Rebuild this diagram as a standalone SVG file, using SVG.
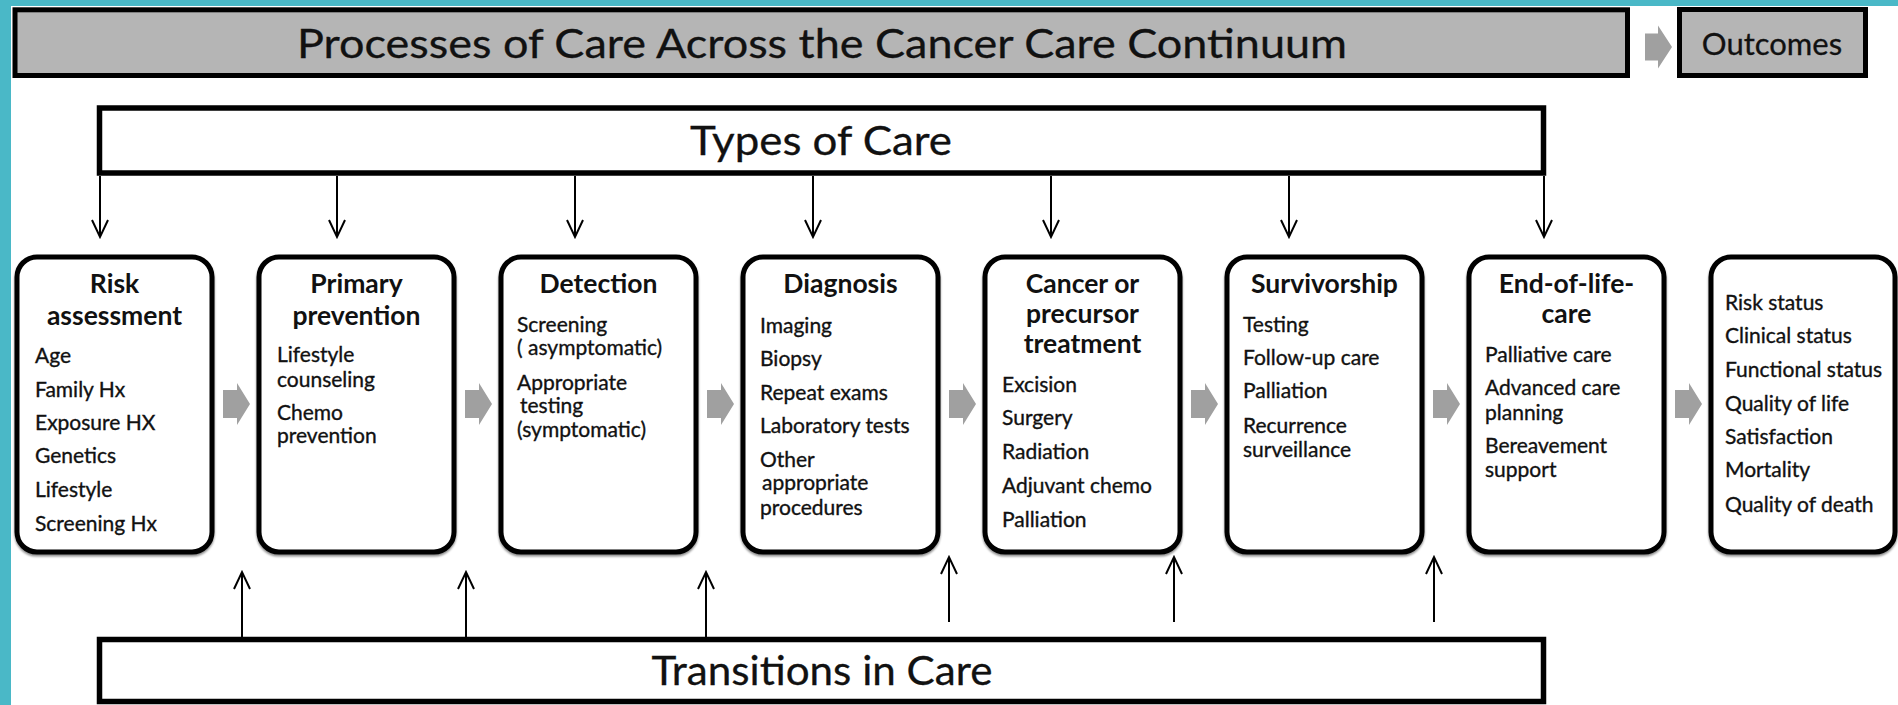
<svg xmlns="http://www.w3.org/2000/svg" width="1898" height="705" viewBox="0 0 1898 705">
  <defs>
    <style>
      .bar { fill: #b5b5b5; stroke: #000; stroke-width: 5; }
      .band { fill: #fff; stroke: #000; stroke-width: 5.5; }
      .node { fill: #fff; stroke: #000; stroke-width: 5; filter: url(#shade); }
      .big { font-family: Lato, "Open Sans", sans-serif; font-size: 41px; fill: #111; text-anchor: middle; stroke: #111; stroke-width: 0.3; }
      .hdr { font-family: Lato, "Open Sans", sans-serif; font-size: 26.5px; font-weight: bold; fill: #111; text-anchor: middle; }
      .item { font-family: Lato, "Open Sans", sans-serif; font-size: 21px; fill: #111; stroke: #111; stroke-width: 0.35; }
      .conn { stroke: #000; stroke-width: 2; fill: none; }
      .step { fill: #a0a0a0; }
    </style>
    <filter id="shade" x="-5%" y="-5%" width="110%" height="110%">
      <feDropShadow dx="0" dy="2" stdDeviation="1.2" flood-color="#000" flood-opacity="0.45"/>
    </filter>
    <!-- gray block arrow, origin at its left edge / vertical centre -->
    <path id="chev" d="M0,-14 H14 V-21 L27,0 L14,21 V14 H0 Z"/>
    <path id="chevSmall" d="M0,-13.5 H13 V-21.5 L27,0 L13,21.5 V13.5 H0 Z"/>
  </defs>

  <!-- page background with teal frame on top and left -->
  <rect x="0" y="0" width="1898" height="705" fill="#fff"/>
  <rect x="0" y="0" width="1898" height="6" fill="#4ab8c7"/>
  <rect x="0" y="0" width="11" height="705" fill="#4ab8c7"/>

  <!-- header bars -->
  <g id="processes">
    <rect class="bar" x="15" y="9.8" width="1612.5" height="65.7"/>
    <text class="big" x="822" y="58" textLength="1050" lengthAdjust="spacingAndGlyphs">Processes of Care Across the Cancer Care Continuum</text>
  </g>
  <use href="#chevSmall" class="step" x="1645" y="47"/>
  <g id="outcomes-header">
    <rect class="bar" x="1679.5" y="9.5" width="186" height="66"/>
    <text class="big" x="1772" y="55" style="font-size:31px">Outcomes</text>
  </g>

  <g id="types-of-care">
    <rect class="band" x="99.5" y="108" width="1444" height="65"/>
    <text class="big" x="821" y="155" textLength="262" lengthAdjust="spacingAndGlyphs">Types of Care</text>
  </g>

  <g id="transitions-in-care">
    <rect class="band" x="99.5" y="639.5" width="1444" height="62"/>
    <text class="big" x="822" y="685" textLength="341" lengthAdjust="spacingAndGlyphs">Transitions in Care</text>
  </g>

  <!-- continuum stages -->
  <g id="risk-assessment">
    <rect class="node" x="17" y="257" width="195" height="295" rx="20"/>
    <text class="hdr" x="114.5" y="293">Risk</text>
    <text class="hdr" x="114.5" y="325">assessment</text>
    <text class="item" x="35" y="363">Age</text>
    <text class="item" x="35" y="397">Family Hx</text>
    <text class="item" x="35" y="430">Exposure HX</text>
    <text class="item" x="35" y="463">Genetics</text>
    <text class="item" x="35" y="497">Lifestyle</text>
    <text class="item" x="35" y="531">Screening Hx</text>
  </g>

  <g id="primary-prevention">
    <rect class="node" x="259" y="257" width="195" height="295" rx="20"/>
    <text class="hdr" x="356.5" y="293">Primary</text>
    <text class="hdr" x="356.5" y="325">prevention</text>
    <text class="item" x="277" y="362">Lifestyle</text>
    <text class="item" x="277" y="387">counseling</text>
    <text class="item" x="277" y="420">Chemo</text>
    <text class="item" x="277" y="443">prevention</text>
  </g>

  <g id="detection">
    <rect class="node" x="501" y="257" width="195" height="295" rx="20"/>
    <text class="hdr" x="598.5" y="293">Detection</text>
    <text class="item" x="517" y="332">Screening</text>
    <text class="item" x="517" y="355">( asymptomatic)</text>
    <text class="item" x="517" y="390">Appropriate</text>
    <text class="item" x="520" y="413">testing</text>
    <text class="item" x="517" y="437">(symptomatic)</text>
  </g>

  <g id="diagnosis">
    <rect class="node" x="743" y="257" width="195" height="295" rx="20"/>
    <text class="hdr" x="840.5" y="293">Diagnosis</text>
    <text class="item" x="760" y="333">Imaging</text>
    <text class="item" x="760" y="366">Biopsy</text>
    <text class="item" x="760" y="400">Repeat exams</text>
    <text class="item" x="760" y="433">Laboratory tests</text>
    <text class="item" x="760" y="467">Other</text>
    <text class="item" x="762" y="490">appropriate</text>
    <text class="item" x="760" y="515">procedures</text>
  </g>

  <g id="treatment">
    <rect class="node" x="985" y="257" width="195" height="295" rx="20"/>
    <text class="hdr" x="1082.5" y="293">Cancer or</text>
    <text class="hdr" x="1082.5" y="323">precursor</text>
    <text class="hdr" x="1082.5" y="353">treatment</text>
    <text class="item" x="1002" y="392">Excision</text>
    <text class="item" x="1002" y="425">Surgery</text>
    <text class="item" x="1002" y="459">Radiation</text>
    <text class="item" x="1002" y="493">Adjuvant chemo</text>
    <text class="item" x="1002" y="527">Palliation</text>
  </g>

  <g id="survivorship">
    <rect class="node" x="1227" y="257" width="195" height="295" rx="20"/>
    <text class="hdr" x="1324.5" y="293">Survivorship</text>
    <text class="item" x="1243" y="332">Testing</text>
    <text class="item" x="1243" y="365">Follow-up care</text>
    <text class="item" x="1243" y="398">Palliation</text>
    <text class="item" x="1243" y="433">Recurrence</text>
    <text class="item" x="1243" y="457">surveillance</text>
  </g>

  <g id="end-of-life-care">
    <rect class="node" x="1469" y="257" width="195" height="295" rx="20"/>
    <text class="hdr" x="1566.5" y="293">End-of-life-</text>
    <text class="hdr" x="1566.5" y="323">care</text>
    <text class="item" x="1485" y="362">Palliative care</text>
    <text class="item" x="1485" y="395">Advanced care</text>
    <text class="item" x="1485" y="420">planning</text>
    <text class="item" x="1485" y="453">Bereavement</text>
    <text class="item" x="1485" y="477">support</text>
  </g>

  <g id="outcome-measures">
    <rect class="node" x="1711" y="257" width="184" height="295" rx="20"/>
    <text class="item" x="1725" y="310">Risk status</text>
    <text class="item" x="1725" y="343">Clinical status</text>
    <text class="item" x="1725" y="377">Functional status</text>
    <text class="item" x="1725" y="411">Quality of life</text>
    <text class="item" x="1725" y="444">Satisfaction</text>
    <text class="item" x="1725" y="477">Mortality</text>
    <text class="item" x="1725" y="512">Quality of death</text>
  </g>

  <!-- connectors -->
  <g id="connectors">
    <!-- types of care feeding each stage -->
    <g class="conn">
      <path d="M100,176 V237 M92,220 L100,237 L108,220"/>
      <path d="M337,176 V237 M329,220 L337,237 L345,220"/>
      <path d="M575,176 V237 M567,220 L575,237 L583,220"/>
      <path d="M813,176 V237 M805,220 L813,237 L821,220"/>
      <path d="M1051,176 V237 M1043,220 L1051,237 L1059,220"/>
      <path d="M1289,176 V237 M1281,220 L1289,237 L1297,220"/>
      <path d="M1544,176 V237 M1536,220 L1544,237 L1552,220"/>
    </g>
    <!-- transitions in care rising between stages -->
    <g class="conn">
      <path d="M242,637 V572 M234,589 L242,572 L250,589"/>
      <path d="M466,637 V572 M458,589 L466,572 L474,589"/>
      <path d="M706,637 V572 M698,589 L706,572 L714,589"/>
      <path d="M949,622 V557 M941,574 L949,557 L957,574"/>
      <path d="M1174,622 V557 M1166,574 L1174,557 L1182,574"/>
      <path d="M1434,622 V557 M1426,574 L1434,557 L1442,574"/>
    </g>
    <!-- stage-to-stage flow -->
    <g class="step">
      <use href="#chev" x="223" y="404"/>
      <use href="#chev" x="465" y="404"/>
      <use href="#chev" x="707" y="404"/>
      <use href="#chev" x="949" y="404"/>
      <use href="#chev" x="1191" y="404"/>
      <use href="#chev" x="1433" y="404"/>
      <use href="#chev" x="1675" y="404"/>
    </g>
  </g>
</svg>
